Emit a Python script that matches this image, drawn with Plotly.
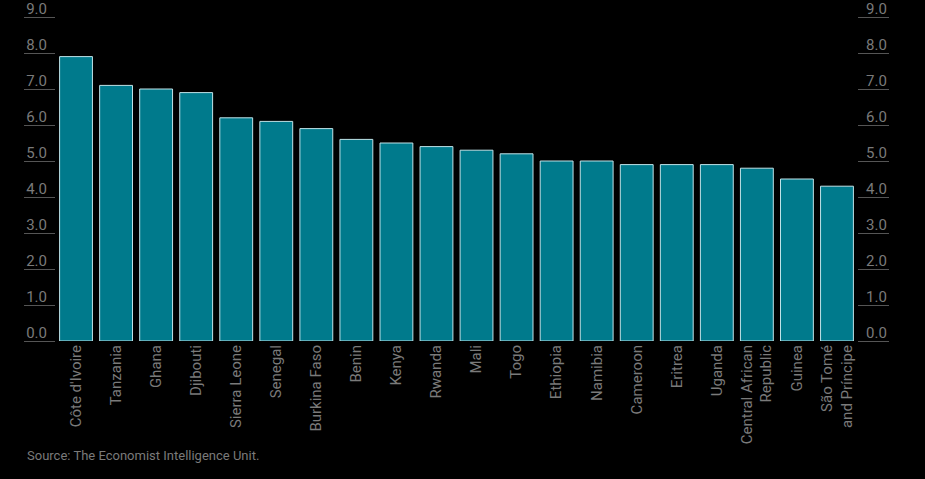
import plotly.graph_objects as go

countries = ["Côte d'Ivoire", "Tanzania", "Ghana", "Djibouti", "Sierra Leone", "Senegal",
             "Burkina Faso", "Benin", "Kenya", "Rwanda", "Mali", "Togo", "Ethiopia",
             "Namibia", "Cameroon", "Eritrea", "Uganda", "Central African<br>Republic",
             "Guinea", "São Tomé<br>and Príncipe"]
growth = [7.9, 7.1, 7.0, 6.9, 6.2, 6.1, 5.9, 5.6, 5.5, 5.4, 5.3, 5.2, 5.0, 5.0,
          4.9, 4.9, 4.9, 4.8, 4.5, 4.3]
tick_vals = [0, 1, 2, 3, 4, 5, 6, 7, 8, 9]
tick_text = ["0.0", "1.0", "2.0", "3.0", "4.0", "5.0", "6.0", "7.0", "8.0", "9.0"]
source = "Source: The Economist Intelligence Unit."

FONT = "Liberation Sans Narrow, Roboto, Arial, sans-serif"
TXT = "#7a7a7a"

fig = go.Figure()
fig.add_trace(go.Bar(x=countries, y=growth, marker=dict(color="#007A8C",
                     line=dict(color="#bfe3e8", width=1)), showlegend=False,
                     hoverinfo="x+y"))
# invisible companion trace so the right-hand axis is drawn
fig.add_trace(go.Scatter(x=[countries[0]], y=[growth[0]], yaxis="y2", mode="markers",
                         marker=dict(opacity=0, size=1), showlegend=False, hoverinfo="skip"))

axis_common = dict(range=[0, 9], tickvals=tick_vals, ticktext=tick_text,
                   showgrid=False, zeroline=False, showline=False, automargin=False,
                   ticks="outside", ticklen=31, tickcolor="#555555", tickwidth=1,
                   ticklabelshift=-8, ticklabelstandoff=-26, ticklabeloverflow="allow",
                   tickfont=dict(family=FONT, size=15, color=TXT))

fig.update_layout(
    width=925, height=479,
    margin=dict(l=56, r=68, t=17, b=138),
    paper_bgcolor="black", plot_bgcolor="black",
    bargap=0.18,
    xaxis=dict(tickangle=-90, showgrid=False, showline=False, ticks="", automargin=False,
               range=[-0.5, len(countries) - 0.5],
               tickfont=dict(family=FONT, size=15, color=TXT)),
    yaxis=dict(side="left", **axis_common),
    yaxis2=dict(side="right", overlaying="y", **axis_common),
    annotations=[dict(text=source, x=(25 - 56) / (925 - 56 - 68),
                      y=(479 - 138 - 455) / (479 - 17 - 138),
                      xref="paper", yref="paper",
                      showarrow=False, xanchor="left", yanchor="middle",
                      font=dict(family=FONT, size=13, color=TXT))],
)

fig.write_html("out.html")
